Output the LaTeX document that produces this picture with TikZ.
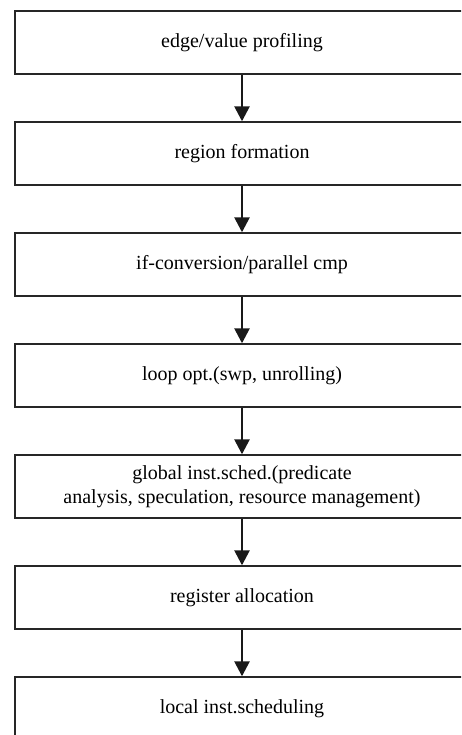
\documentclass[tikz,border=0pt]{standalone}
\usepackage{fontspec}
\setmainfont{Liberation Serif}
\usetikzlibrary{arrows.meta}
\tikzset{
  stage/.style={draw=black!85, line width=1.4pt, minimum width=454pt, minimum height=63pt,
    inner sep=0pt, align=center, font=\fontsize{20}{24}\selectfont, text=black},
  flow/.style={line width=2.6pt, draw=black!90, -{Triangle[length=15pt,width=15pt]}}
}
\begin{document}
\begin{tikzpicture}[x=1pt,y=-1pt]
\path[use as bounding box, clip] (0,0) rectangle (461,735);
\node[stage] (n1) at (242,42.5) {edge/value profiling};
\node[stage] (n2) at (242,153.5) {region formation};
\node[stage] (n3) at (242,264.5) {if-conversion/parallel cmp};
\node[stage] (n4) at (242,375.5) {loop opt.(swp, unrolling)};
\node[stage] (n5) at (242,486.5) {global inst.sched.(predicate\\analysis, speculation, resource management)};
\node[stage] (n6) at (242,597.5) {register allocation};
\node[stage] (n7) at (242,708.5) {local inst.scheduling};
\draw[flow] (n1) -- (n2);
\draw[flow] (n2) -- (n3);
\draw[flow] (n3) -- (n4);
\draw[flow] (n4) -- (n5);
\draw[flow] (n5) -- (n6);
\draw[flow] (n6) -- (n7);
\end{tikzpicture}
\end{document}
